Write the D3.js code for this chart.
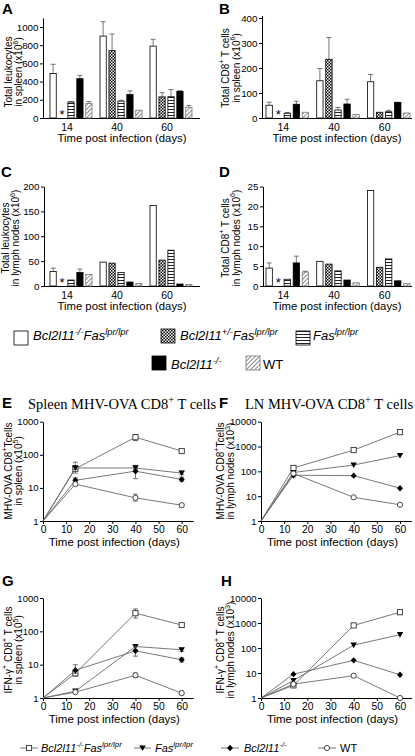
<!DOCTYPE html>
<html><head><meta charset="utf-8">
<script src="https://cdn.jsdelivr.net/npm/d3@7"></script>
<style>html,body{margin:0;padding:0;background:#fff;} svg{display:block;font-family:"Liberation Sans",Arial,sans-serif;}</style>
</head><body><svg id="c" width="415" height="756"></svg>
<script>
// ---------------- DATA ----------------
const barGroups = [14, 40, 60];
const barSeries = ["Bcl2l11-/-Fas lpr/lpr", "Bcl2l11+/-Fas lpr/lpr", "Fas lpr/lpr", "Bcl2l11-/-", "WT"];
// A: total leukocytes in spleen (x10^6)
const leukSpleen    = [[490, 900, 790], [null, 740, 232], [175, 185, 234], [432, 258, 293], [160, 86, 117]];
const leukSpleenErr = [[590, 1058, 865], [null, 923, 278], [182, 195, 312], [468, 298, 300], [180, null, 138]];
// B: total CD8+ T cells in spleen (x10^6)
const cd8Spleen     = [[51, 149, 145], [null, 235, 23], [19, 32, 25], [55, 56, 62], [23, 14, 20]];
const cd8SpleenErr  = [[63, 198, 174], [null, 322, null], [22, 42, 31], [67, 75, 63], [null, null, null]];
// C: total leukocytes in lymph nodes (x10^6)
const leukLN        = [[29, 48, 162], [null, 46, 52], [12, 27, 72], [27, 8, 4], [23, 5, 3]];
const leukLNErr     = [[36, null, null], [null, null, null], [null, null, null], [34, null, null], [null, null, null]];
// D: total CD8+ T cells in lymph nodes (x10^6)
const cd8LN         = [[4.5, 6.2, 24], [null, 5.5, 4.7], [1.7, 3.8, 6.8], [5.8, 1.5, 1.3], [3.5, 0.8, 0.6]];
const cd8LNErr      = [[5.8, null, null], [null, null, null], [null, null, null], [7.5, null, null], [3.7, null, null]];

const days = [0, 14, 40, 60];
const lineSeries = ["Bcl2l11-/-Fas lpr/lpr", "Fas lpr/lpr", "Bcl2l11-/-", "WT"];
// E: spleen MHV-OVA CD8+ T cells (x10^5)
const ovaSpleen    = [[1, 38, 340, 130], [1, 40, 40, 28], [1, 17, 32, 18], [1, 13, 5, 3]];
const ovaSpleenLo  = [[null, 28, 270, 120], [null, 36, 35, 25], [null, 15, 19, 16], [null, 12, 4, 2.7]];
const ovaSpleenHi  = [[null, 60, 410, 140], [null, 44, 48, 32], [null, 20, 38, 21], [null, 14, 6.5, 3.3]];
// F: LN MHV-OVA CD8+ T cells (x10^3)
const ovaLN        = [[1, 137, 720, 3800], [1, 90, 180, 430], [1, 70, 67, 21], [1, 82, 9, 4.5]];
const ovaLNLo      = [[null, 115, null, null], [null, 75, null, null], [null, 60, null, null], [null, null, null, null]];
const ovaLNHi      = [[null, 165, null, null], [null, 100, null, null], [null, 80, null, null], [null, null, null, null]];
// G: IFN-g+ CD8+ T cells in spleen (x10^5)
const ifnSpleen    = [[1, 5.5, 350, 155], [1, 1.6, 35, 28], [1, 6.8, 26, 14], [1, 1.5, 4.8, 1.4]];
const ifnSpleenLo  = [[null, 4.5, 250, 145], [null, null, 28, 25], [null, 5.5, 18, 12], [null, null, 4.1, 1.25]];
const ifnSpleenHi  = [[null, 6.5, 470, 165], [null, null, 40, 31], [null, 10, 35, 16], [null, null, 5.6, 1.6]];
// H: IFN-g+ CD8+ T cells in lymph nodes (x10^3)
const ifnLN        = [[1, 3.2, 800, 2700], [1, 5, 130, 340], [1, 9, 32, 8.5], [1, 3.6, 7.8, 1]];

// ---------------- HELPERS ----------------
const svg = d3.select("#c");
svg.append("rect").attr("width", 415).attr("height", 756).attr("fill", "#fff");
const FONT = '"Liberation Sans",Arial,sans-serif';

const defs = svg.append("defs");
const pChk = defs.append("pattern").attr("id", "chk").attr("patternUnits", "userSpaceOnUse").attr("width", 3).attr("height", 3);
pChk.append("rect").attr("width", 3).attr("height", 3).attr("fill", "#fff");
pChk.append("rect").attr("width", 1.5).attr("height", 1.5).attr("fill", "#000");
pChk.append("rect").attr("x", 1.5).attr("y", 1.5).attr("width", 1.5).attr("height", 1.5).attr("fill", "#000");
const pStr = defs.append("pattern").attr("id", "str").attr("patternUnits", "userSpaceOnUse").attr("width", 4).attr("height", 3);
pStr.append("rect").attr("width", 4).attr("height", 3).attr("fill", "#fff");
pStr.append("rect").attr("y", 1).attr("width", 4).attr("height", 1).attr("fill", "#222");
const pDia = defs.append("pattern").attr("id", "dia").attr("patternUnits", "userSpaceOnUse").attr("width", 3).attr("height", 3).attr("patternTransform", "rotate(45)");
pDia.append("rect").attr("width", 3).attr("height", 3).attr("fill", "#fff");
pDia.append("rect").attr("width", 1).attr("height", 3).attr("fill", "#8a8a8a");

const barFills = ["#fff", "url(#chk)", "url(#str)", "#000", "url(#dia)"];

function rich(sel, parts, fs) {
  let shift = 0;
  parts.forEach(p => {
    const o = typeof p === "string" ? {t: p} : p;
    const target = o.sup ? -fs * 0.42 : 0;
    const ts = sel.append("tspan").text(o.t).attr("dy", target - shift);
    shift = target;
    if (o.sup) ts.attr("font-size", fs * 0.72);
    if (o.it) ts.attr("font-style", "italic");
  });
  return sel;
}

function vlabel(cx1, cx2, cy, l1, l2, fs) {
  [[cx1, l1], [cx2, l2]].forEach(([cx, parts]) => {
    const t = svg.append("text").attr("transform", `translate(${cx + fs * 0.36},${cy}) rotate(-90)`)
      .attr("text-anchor", "middle").attr("font-size", fs).attr("font-family", FONT);
    rich(t, parts, fs);
  });
}

function letter(x, y, s) {
  svg.append("text").attr("x", x).attr("y", y).text(s).attr("font-size", 15).attr("font-weight", "bold").attr("font-family", FONT);
}

function styleAxis(g, fs) {
  g.selectAll("text").attr("font-size", fs).attr("font-family", FONT).attr("fill", "#000");
  g.selectAll("line,path").attr("stroke", "#000").attr("stroke-width", 1);
}

function barPanel(o) {
  const y = d3.scaleLinear().domain([0, o.ymax]).range([o.y0, o.yTop]);
  const gx = d3.scaleBand().domain(barGroups).range([o.bx0, o.bx1]).paddingInner(0.16).paddingOuter(0);
  const sx = d3.scaleBand().domain(d3.range(barSeries.length)).range([0, gx.bandwidth()]).paddingInner(0.3);
  const g = svg.append("g");
  const ya = g.append("g").attr("transform", `translate(${o.ax},0)`)
    .call(d3.axisLeft(y).tickValues(o.ticks).tickFormat(d3.format("d")).tickSize(3).tickSizeOuter(0).tickPadding(1.5));
  styleAxis(ya, 9.8);
  g.append("line").attr("x1", o.ax).attr("x2", o.axEnd).attr("y1", o.y0 + 0.5).attr("y2", o.y0 + 0.5).attr("stroke", "#000");
  o.vals.forEach((ser, si) => {
    ser.forEach((v, gi) => {
      const x = gx(barGroups[gi]) + sx(si);
      const w = sx.bandwidth();
      if (v == null) {
        g.append("text").attr("x", x + w / 2).attr("y", o.y0 + 1).attr("text-anchor", "middle")
          .attr("font-size", 13).attr("font-family", FONT).text("*");
        return;
      }
      const e = o.errs[si][gi];
      if (e != null) {
        g.append("line").attr("x1", x + w / 2).attr("x2", x + w / 2).attr("y1", y(v)).attr("y2", y(e)).attr("stroke", "#555").attr("stroke-width", 0.8);
        g.append("line").attr("x1", x + w / 2 - 2.5).attr("x2", x + w / 2 + 2.5).attr("y1", y(e)).attr("y2", y(e)).attr("stroke", "#555").attr("stroke-width", 0.8);
      }
      g.append("rect").attr("x", x).attr("y", y(v)).attr("width", w).attr("height", Math.max(0.5, o.y0 - y(v)))
        .attr("fill", barFills[si]).attr("stroke", si === 4 ? "#777" : "#000").attr("stroke-width", 0.8);
    });
  });
  barGroups.forEach(gv => {
    g.append("text").attr("x", gx(gv) + gx.bandwidth() / 2 - 4).attr("y", o.y0 + 12.5).attr("text-anchor", "middle")
      .attr("font-size", 10.5).attr("font-family", FONT).text(gv);
  });
  g.append("text").attr("x", o.titleX).attr("y", o.y0 + 24).attr("text-anchor", "middle")
    .attr("font-size", 11.3).attr("font-family", FONT).text("Time post infection (days)");
}

function marker(g, k, x, yv) {
  const s = 2.6;
  if (k === 0) g.append("rect").attr("x", x - s).attr("y", yv - s).attr("width", 2 * s).attr("height", 2 * s).attr("fill", "#fff").attr("stroke", "#333").attr("stroke-width", 0.9);
  else if (k === 1) g.append("path").attr("d", `M${x - 3.2},${yv - 2.6}L${x + 3.2},${yv - 2.6}L${x},${yv + 3}Z`).attr("fill", "#000");
  else if (k === 2) g.append("path").attr("d", `M${x},${yv - 3.2}L${x + 3},${yv}L${x},${yv + 3.2}L${x - 3},${yv}Z`).attr("fill", "#000");
  else g.append("circle").attr("cx", x).attr("cy", yv).attr("r", 2.6).attr("fill", "#fff").attr("stroke", "#333").attr("stroke-width", 0.9);
}

function linePanel(o) {
  const x = d3.scaleLinear().domain([0, 65]).range([o.x0, o.x0 + (o.x60 - o.x0) * 65 / 60]);
  const y = d3.scaleLog().domain([1, o.ymax]).range([o.y0, o.yTop]);
  const g = svg.append("g");
  const xa = g.append("g").attr("transform", `translate(0,${o.y0})`)
    .call(d3.axisBottom(x).tickValues([0, 10, 20, 30, 40, 50, 60]).tickSize(3).tickSizeOuter(0).tickPadding(2));
  styleAxis(xa, 10.3);
  const ya = g.append("g").attr("transform", `translate(${o.x0},0)`)
    .call(d3.axisLeft(y).tickValues(o.ticks).tickFormat(d3.format("d")).tickSize(3).tickSizeOuter(0).tickPadding(1.5));
  styleAxis(ya, 9.5);
  const line = d3.line().x((d, i) => x(days[i])).y(d => y(Math.max(1, d)));
  o.vals.forEach((ser, si) => {
    g.append("path").attr("d", line(ser)).attr("fill", "none").attr("stroke", "#6a6a6a").attr("stroke-width", 0.9);
  });
  o.vals.forEach((ser, si) => {
    ser.forEach((v, di) => {
      if (di === 0) return;
      const lo = o.lo ? o.lo[si][di] : null, hi = o.hi ? o.hi[si][di] : null;
      const cx = x(days[di]);
      if (lo != null && hi != null) {
        g.append("line").attr("x1", cx).attr("x2", cx).attr("y1", y(lo)).attr("y2", y(hi)).attr("stroke", "#555").attr("stroke-width", 0.8);
        [lo, hi].forEach(e => g.append("line").attr("x1", cx - 2.5).attr("x2", cx + 2.5).attr("y1", y(e)).attr("y2", y(e)).attr("stroke", "#555").attr("stroke-width", 0.8));
      }
      marker(g, si, cx, y(Math.max(1, v)));
    });
  });
  g.append("text").attr("x", (o.x0 + o.x60) / 2 + 2).attr("y", o.y0 + 25).attr("text-anchor", "middle")
    .attr("font-size", 11.5).attr("font-family", FONT).text("Time post infection (days)");
}

// ---------------- PANELS ----------------
letter(2, 14, "A"); letter(219, 14, "B"); letter(1, 177, "C"); letter(219, 177, "D");
letter(2, 408, "E"); letter(219, 408, "F"); letter(2, 586, "G"); letter(221, 586, "H");

barPanel({vals: leukSpleen, errs: leukSpleenErr, ymax: 1100, ticks: [0, 200, 400, 600, 800, 1000], y0: 118, yTop: 17.9,
  ax: 43, axEnd: 200, bx0: 50, bx1: 192, titleX: 122});
barPanel({vals: cd8Spleen, errs: cd8SpleenErr, ymax: 410, ticks: [0, 100, 200, 300, 400], y0: 118, yTop: 15.5,
  ax: 262, axEnd: 412, bx0: 266, bx1: 410, titleX: 337});
barPanel({vals: leukLN, errs: leukLNErr, ymax: 200, ticks: [0, 50, 100, 150, 200], y0: 286, yTop: 186.5,
  ax: 44, axEnd: 200, bx0: 50, bx1: 192, titleX: 122});
barPanel({vals: cd8LN, errs: cd8LNErr, ymax: 25, ticks: [0, 5, 10, 15, 20, 25], y0: 286, yTop: 186.5,
  ax: 263, axEnd: 412, bx0: 266, bx1: 410, titleX: 337});

const P = s => ({t: s, sup: true});
vlabel(8, 18.5, 72, ["Total leukocytes"], ["in spleen (x10", P("6"), ")"], 10);
vlabel(225, 236, 68, ["Total CD8", P("+"), " T cells"], ["in spleen (x10", P("6"), ")"], 10);
vlabel(5, 15.5, 238, ["Total leukocytes"], ["in lymph nodes (x10", P("6"), ")"], 10);
vlabel(225, 236, 238, ["Total CD8", P("+"), " T cells"], ["in lymph nodes (x10", P("6"), ")"], 10);

// legend for bars
function legItem(x, y, fill, bx, by, parts, stroke) {
  svg.append("rect").attr("x", bx).attr("y", by).attr("width", 14).attr("height", 14).attr("fill", fill).attr("stroke", stroke || "#000").attr("stroke-width", 0.8);
  const t = svg.append("text").attr("x", x).attr("y", y).attr("font-size", 13).attr("font-family", FONT);
  rich(t, parts, 13);
}
const I = s => ({t: s, it: true});
const IS = s => ({t: s, it: true, sup: true});
legItem(33, 340, barFills[0], 14, 331, [I("Bcl2l11"), IS("-/-"), I("Fas"), IS("lpr/lpr")]);
legItem(180, 340, barFills[1], 161, 329, [I("Bcl2l11"), IS("+/-"), I("Fas"), IS("lpr/lpr")]);
legItem(313, 340, barFills[2], 296, 331, [I("Fas"), IS("lpr/lpr")]);
legItem(171, 369, barFills[3], 152, 356, [I("Bcl2l11"), IS("-/-")]);
legItem(263, 369, barFills[4], 246, 356, ["WT"], "#777");

// titles
svg.append("text").attr("x", 28).attr("y", 409).attr("font-family", '"Liberation Serif","Times New Roman",serif').attr("font-size", 14.5)
  .call(t => rich(t, ["Spleen MHV-OVA CD8", P("+"), " T cells"], 14.5));
svg.append("text").attr("x", 245).attr("y", 409).attr("font-family", '"Liberation Serif","Times New Roman",serif').attr("font-size", 14.5)
  .call(t => rich(t, ["LN MHV-OVA CD8", P("+"), " T cells"], 14.5));

linePanel({vals: ovaSpleen, lo: ovaSpleenLo, hi: ovaSpleenHi, x0: 43, x60: 181.7, y0: 521, yTop: 421.7, ymax: 1000, ticks: [1, 10, 100, 1000]});
linePanel({vals: ovaLN, lo: ovaLNLo, hi: ovaLNHi, x0: 261, x60: 400, y0: 521, yTop: 421.7, ymax: 10000, ticks: [1, 10, 100, 1000, 10000]});
linePanel({vals: ifnSpleen, lo: ifnSpleenLo, hi: ifnSpleenHi, x0: 43, x60: 181.7, y0: 698, yTop: 598, ymax: 1000, ticks: [1, 10, 100, 1000]});
linePanel({vals: ifnLN, x0: 261, x60: 400, y0: 698, yTop: 598, ymax: 10000, ticks: [1, 10, 100, 1000, 10000]});

vlabel(8, 18.5, 471, ["MHV-OVA CD8", P("+"), "Tcells"], ["in spleen (x10", P("5"), ")"], 10);
vlabel(220, 230.5, 471, ["MHV-OVA CD8", P("+"), "Tcells"], ["in lymph nodes (x10", P("3"), ")"], 10);
vlabel(8, 18.5, 650, ["IFN-γ", P("+"), " CD8", P("+"), " T cells"], ["in spleen (x10", P("5"), ")"], 10);
vlabel(220, 230.5, 650, ["IFN-γ", P("+"), " CD8", P("+"), " T cells"], ["in lymph nodes (x10", P("3"), ")"], 10);

// bottom legend
const lg = svg.append("g");
const legX = [[20, 38, 41], [134, 151, 155], [221, 239, 244], [318, 336, 340]];
const legParts = [[I("Bcl2l11"), IS("-/-"), I("Fas"), IS("lpr/lpr")], [I("Fas"), IS("lpr/lpr")], [I("Bcl2l11"), IS("-/-")], ["WT"]];
lineSeries.forEach((s, i) => {
  const [a, b, tx] = legX[i];
  lg.append("line").attr("x1", a).attr("x2", b).attr("y1", 748).attr("y2", 748).attr("stroke", "#6a6a6a").attr("stroke-width", 0.9);
  marker(lg, i, (a + b) / 2, 748);
  const t = lg.append("text").attr("x", tx).attr("y", 752).attr("font-size", 11).attr("font-family", FONT);
  rich(t, legParts[i], 11);
});
</script></body></html>
